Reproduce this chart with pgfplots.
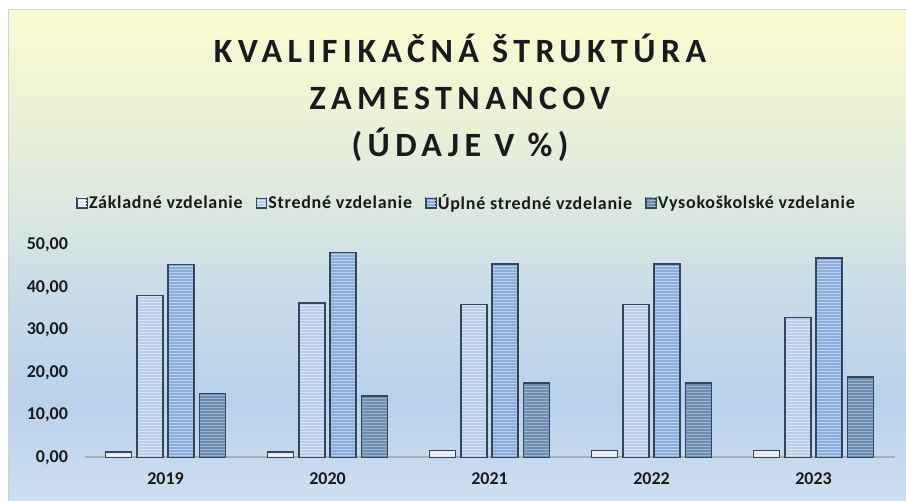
\documentclass[border=0pt]{standalone}
\usepackage{fontspec}
\setmainfont{Carlito}
\usepackage{pgfplots}
\pgfplotsset{compat=1.18}
\usetikzlibrary{patterns}

\definecolor{bg0}{HTML}{CEDFF1}
\definecolor{bg1}{HTML}{B9D1EC}
\definecolor{bg2}{HTML}{C8DBE8}
\definecolor{bg3}{HTML}{DDE9DF}
\definecolor{bg4}{HTML}{EEF3D5}
\definecolor{bg5}{HTML}{FBFBD0}
\definecolor{barline}{HTML}{34465A}
\definecolor{fA}{HTML}{E2E9F2}
\definecolor{lA}{HTML}{F2F6FA}
\definecolor{fB}{HTML}{B8CDE9}
\definecolor{lB}{HTML}{DCE7F6}
\definecolor{fC}{HTML}{8AADD9}
\definecolor{lC}{HTML}{B9CFEC}
\definecolor{fD}{HTML}{6E8CB0}
\definecolor{lD}{HTML}{9CB3CC}
\definecolor{axisgray}{HTML}{A8AFB6}
\definecolor{txt}{HTML}{1A1A1A}

\pgfdeclareverticalshading{chartbg}{100bp}{color(0bp)=(bg0); color(25bp)=(bg0); color(35.3bp)=(bg1); color(45.5bp)=(bg2); color(55.6bp)=(bg3); color(65.8bp)=(bg4); color(75bp)=(bg5); color(100bp)=(bg5)}

\pgfdeclarepatternformonly{hstripes}{\pgfpointorigin}{\pgfqpoint{100pt}{1.5pt}}{\pgfqpoint{100pt}{3pt}}{%
  \pgfsetlinewidth{1.3pt}%
  \pgfpathmoveto{\pgfqpoint{0pt}{0.75pt}}%
  \pgfpathlineto{\pgfqpoint{100pt}{0.75pt}}%
  \pgfusepath{stroke}}

\begin{document}
\begin{tikzpicture}
\useasboundingbox (0pt,0pt) rectangle (906pt,501pt);
\fill[white] (0pt,0pt) rectangle (906pt,501pt);
\shade[shading=chartbg] (8pt,0pt) rectangle (906pt,491pt);
\draw[color=black!18, line width=1pt] (8pt,0pt) -- (8pt,491pt) -- (906pt,491pt);

\begin{scope}[font=\bfseries\fontsize{34}{34}\selectfont\addfontfeature{LetterSpace=16}, text=txt]
\node[anchor=base] at (460pt,438pt) {KVALIFIKAČNÁ ŠTRUKTÚRA};
\node[anchor=base] at (460pt,391pt) {ZAMESTNANCOV};
\node[anchor=base] at (460pt,344pt) {(ÚDAJE V \%)};
\end{scope}

\begin{axis}[
  at={(84.5pt,43.5pt)}, anchor=south west,
  scale only axis, width=810pt, height=212.5pt,
  xmin=-0.5, xmax=4.5, ymin=0, ymax=50,
  ybar=5.3pt, bar width=26pt,
  xtick={0,1,2,3,4}, xticklabels={2019,2020,2021,2022,2023},
  ytick={0,10,20,30,40,50},
  axis x line*=bottom, axis y line*=left,
  y axis line style={draw=none},
  x axis line style={draw=axisgray, line width=2pt},
  major tick length=0pt, tick style={draw=none},
  xticklabel style={font=\bfseries\fontsize{18}{18}\selectfont, text=txt, yshift=-12pt},
  yticklabel style={font=\bfseries\fontsize{18}{18}\selectfont, text=txt, xshift=-13pt,
    /pgf/number format/.cd, fixed, fixed zerofill, precision=2, use comma, assume math mode=true},
  legend columns=4,
  legend style={at={(0.4716,1.198)}, anchor=center, draw=none, fill=none,
    font=\bfseries\fontsize{18}{18}\selectfont\addfontfeature{LetterSpace=4}, text=txt,
    nodes={inner xsep=1.5pt},
    /tikz/every even column/.append style={column sep=12pt}},
  legend image code/.code={\draw[#1, line width=0.8pt] (0pt,-5pt) rectangle (10pt,5pt);},
  clip=false,
]
\addplot[preaction={fill=fA}, pattern=hstripes, pattern color=lA, draw=barline, line width=1.5pt]
  coordinates {(0,1.3) (1,1.3) (2,1.7) (3,1.7) (4,1.7)};
\addplot[preaction={fill=fB}, pattern=hstripes, pattern color=lB, draw=barline, line width=1.5pt]
  coordinates {(0,38.1) (1,36.4) (2,36.0) (3,36.0) (4,33.0)};
\addplot[preaction={fill=fC}, pattern=hstripes, pattern color=lC, draw=barline, line width=1.5pt]
  coordinates {(0,45.4) (1,48.2) (2,45.5) (3,45.5) (4,46.9)};
\addplot[preaction={fill=fD}, pattern=hstripes, pattern color=lD, draw=barline, line width=1.5pt]
  coordinates {(0,15.1) (1,14.5) (2,17.5) (3,17.5) (4,19.0)};
\legend{Základné vzdelanie, Stredné vzdelanie, Úplné stredné vzdelanie, Vysokoškolské vzdelanie}
\end{axis}
\end{tikzpicture}
\end{document}
